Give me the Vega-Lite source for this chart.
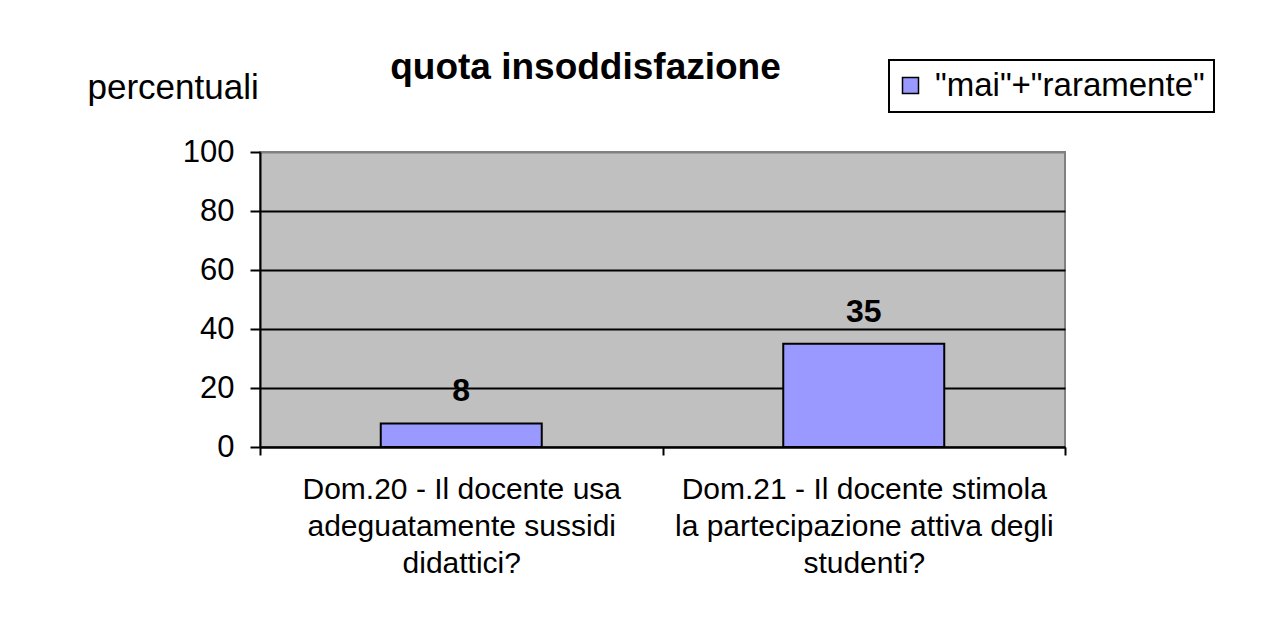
{
  "$schema": "https://vega.github.io/schema/vega-lite/v6.json",
  "width": 805,
  "height": 295,
  "autosize": {"type": "none"},
  "padding": {"left": 260, "top": 152, "right": 201, "bottom": 188},
  "background": "white",
  "title": {
    "text": "quota insoddisfazione",
    "font": "Liberation Sans",
    "fontSize": 37,
    "fontWeight": "bold",
    "color": "black",
    "anchor": "middle",
    "frame": "group",
    "dx": -77,
    "dy": 32
  },
  "data": {
    "values": [
      {"domanda": "Dom.20 - Il docente usa adeguatamente sussidi didattici?", "serie": "\"mai\"+\"raramente\"", "valore": 8},
      {"domanda": "Dom.21 - Il docente stimola la partecipazione attiva degli studenti?", "serie": "\"mai\"+\"raramente\"", "valore": 35}
    ]
  },
  "encoding": {
    "x": {
      "field": "domanda",
      "type": "nominal",
      "sort": null,
      "scale": {"paddingInner": 0, "paddingOuter": 0},
      "axis": {
        "title": null,
        "labelAngle": 0,
        "labelExpr": "datum.label == 'Dom.20 - Il docente usa adeguatamente sussidi didattici?' ? ['Dom.20 - Il docente usa', 'adeguatamente sussidi', 'didattici?'] : datum.label == 'Dom.21 - Il docente stimola la partecipazione attiva degli studenti?' ? ['Dom.21 - Il docente stimola', 'la partecipazione attiva degli', 'studenti?'] : ''",
        "labelFont": "Liberation Sans",
        "labelFontSize": 30,
        "labelColor": "black",
        "labelLineHeight": 37,
        "labelPadding": 19,
        "labelBaseline": "top",
        "labelLimit": 0,
        "labelOverlap": false,
        "tickBand": "extent",
        "tickSize": 8,
        "tickWidth": 2,
        "tickColor": "black",
        "domainColor": "black",
        "domainWidth": 2
      }
    }
  },
  "layer": [
    {
      "mark": {"type": "bar", "width": {"band": 0.4}, "stroke": "black", "strokeWidth": 2},
      "encoding": {
        "y": {
          "field": "valore",
          "type": "quantitative",
          "scale": {"domain": [0, 100]},
          "axis": {
            "values": [0, 20, 40, 60, 80, 100],
            "title": "percentuali",
            "titleAngle": 0,
            "titleAlign": "left",
            "titleBaseline": "alphabetic",
            "titleX": -173,
            "titleY": -54,
            "titleFont": "Liberation Sans",
            "titleFontSize": 35,
            "titleFontWeight": "normal",
            "titleColor": "black",
            "labelFont": "Liberation Sans",
            "labelFontSize": 31,
            "labelColor": "black",
            "labelPadding": 16,
            "tickSize": 10,
            "tickWidth": 2,
            "tickColor": "black",
            "domainColor": "black",
            "domainWidth": 2,
            "grid": true,
            "gridColor": {"condition": {"test": "datum.value == 100", "value": "#808080"}, "value": "black"},
            "gridWidth": 2,
            "gridOpacity": 1
          }
        },
        "color": {
          "field": "serie",
          "type": "nominal",
          "scale": {"range": ["#9999FF"]},
          "legend": {
            "title": null,
            "orient": "none",
            "legendX": 629,
            "legendY": -92,
            "symbolType": "square",
            "symbolSize": 256,
            "symbolStrokeColor": "black",
            "symbolStrokeWidth": 1.5,
            "symbolOpacity": 1,
            "symbolOffset": -4,
            "labelFont": "Liberation Sans",
            "labelFontSize": 33,
            "labelColor": "black",
            "labelLimit": 0,
            "labelOffset": 8,
            "fillColor": "white",
            "strokeColor": "black",
            "padding": 9,
            "encode": {"legend": {"update": {"strokeWidth": {"value": 2}}}}
          }
        }
      }
    },
    {
      "mark": {"type": "text", "dy": -22, "baseline": "alphabetic", "fontSize": 32, "fontWeight": "bold", "font": "Liberation Sans", "color": "black"},
      "encoding": {
        "y": {"field": "valore", "type": "quantitative"},
        "text": {"field": "valore", "type": "quantitative"}
      }
    }
  ],
  "config": {
    "view": {"fill": "#C0C0C0", "stroke": "#808080", "strokeWidth": 2}
  }
}
